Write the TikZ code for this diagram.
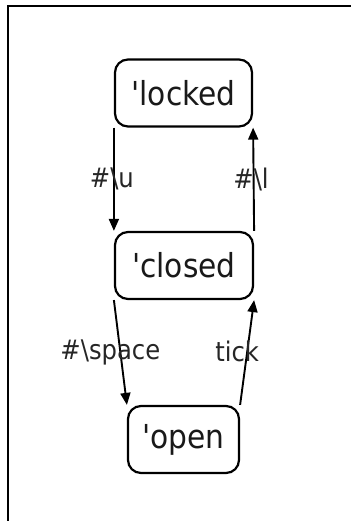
\documentclass[tikz,border=0pt]{standalone}
\usepackage{fontspec}
\setmainfont{DejaVu Sans Condensed}
\usetikzlibrary{arrows.meta}
\begin{document}
\begin{tikzpicture}[x=1pt,y=-1pt,
  state/.style={draw=black, line width=2.2pt, rounded corners=13pt, minimum height=67pt,
    inner sep=0pt, font=\fontsize{33}{40}\selectfont, text=black!90},
  lbl/.style={font=\fontsize{27}{32}\selectfont, text=black!85, inner sep=0pt},
  tr/.style={-{Triangle[length=12pt,width=10pt]}, line width=1.9pt, draw=black}]
\useasboundingbox (0,0) rectangle (351,521);
\draw[line width=2.6pt] (7.8,521) -- (7.8,6) -- (351,6);
\node[state, minimum width=137pt] (locked) at (183.5,93) {\textquotesingle locked};
\node[state, minimum width=138pt] (closed) at (184,265.5) {\textquotesingle closed};
\node[state, minimum width=111pt] (open) at (183.5,439.5) {\textquotesingle open};
\draw[tr] (locked.south west) -- node[lbl, xshift=-2pt]{\#\textbackslash u} (closed.north west);
\draw[tr] (closed.north east) -- node[lbl, xshift=-2.5pt]{\#\textbackslash l} (locked.south east);
\draw[tr] (closed.south west) -- node[lbl, xshift=-10pt]{\#\textbackslash space} (open.north west);
\draw[tr] (open.north east) -- node[lbl, xshift=-10pt, yshift=1pt]{tick} (closed.south east);
\end{tikzpicture}
\end{document}
